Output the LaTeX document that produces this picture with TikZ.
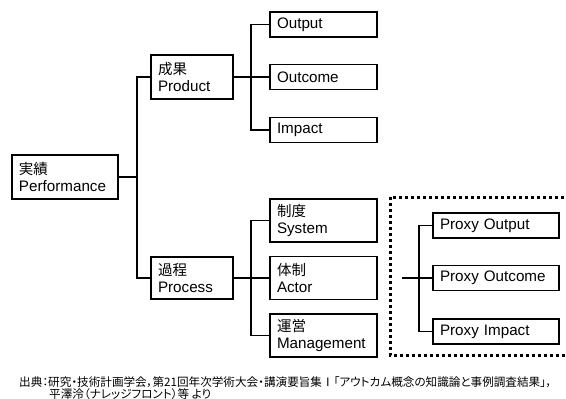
\documentclass[tikz,border=0pt]{standalone}
\usepackage{fontspec}
\setmainfont{Liberation Sans}
\newfontfamily\jp{Noto Sans CJK JP}
\newfontfamily\jpp{Noto Sans CJK JP}[RawFeature=+palt]
\begin{document}
\begin{tikzpicture}[x=1pt,y=-1pt,
  box/.style={draw, line width=1.8pt, line join=miter, rectangle, inner xsep=7pt, inner ysep=0pt,
    align=left, font=\fontsize{15.2}{16.5}\selectfont, anchor=center},
  conn/.style={line width=1.8pt, line join=miter},
  dotbox/.style={line width=3pt, dash pattern=on 3pt off 3pt},
  src/.style={anchor=west, inner sep=0pt, font=\jpp\fontsize{11.6}{11.6}\selectfont}]
\useasboundingbox (0,0) rectangle (566,399);

% main boxes
\node[box, text width=92pt, minimum height=44pt] (perf) at (65,177) {{\jp\fontsize{14.5}{16.5}\selectfont 実績}\\Performance};
\node[box, text width=68pt, minimum height=44pt] (prod) at (192,77) {{\jp\fontsize{14.5}{16.5}\selectfont 成果}\\Product};
\node[box, text width=68pt, minimum height=42pt] (proc) at (192,278) {{\jp\fontsize{14.5}{16.5}\selectfont 過程}\\Process};

\node[box, text width=93pt, minimum height=25pt] (out)  at (323.5,24.5) {Output};
\node[box, text width=93pt, minimum height=25pt] (outc) at (323.5,77) {Outcome};
\node[box, text width=93pt, minimum height=25pt] (imp)  at (323.5,130) {Impact};

\node[box, text width=93pt, minimum height=43pt] (sys) at (323.5,220.5) {{\jp\fontsize{14.5}{16.5}\selectfont 制度}\\System};
\node[box, text width=93pt, minimum height=43pt] (act) at (323.5,278) {{\jp\fontsize{14.5}{16.5}\selectfont 体制}\\Actor};
\node[box, text width=93pt, minimum height=43pt] (man) at (323.5,335.5) {{\jp\fontsize{14.5}{16.5}\selectfont 運営}\\Management};

% dotted frame
\draw[dotbox] (390,197) rectangle (580,355);

\node[box, text width=112pt, minimum height=25pt] (pout)  at (496,225.5) {Proxy Output};
\node[box, text width=112pt, minimum height=25pt] (poutc) at (496,278) {Proxy Outcome};
\node[box, text width=112pt, minimum height=25pt] (pimp)  at (496,331.5) {Proxy Impact};

% connectors
\coordinate (t1) at (137,177);
\draw[conn] (perf.east) -- (t1);
\draw[conn] (prod.west) -| (t1);
\draw[conn] (proc.west) -| (t1);

\coordinate (t2) at (251,77);
\draw[conn] (prod.east) -- (outc.west);
\draw[conn] (out.west) -| (t2);
\draw[conn] (imp.west) -| (t2);

\coordinate (t3) at (251,278);
\draw[conn] (proc.east) -- (act.west);
\draw[conn] (sys.west) -| (t3);
\draw[conn] (man.west) -| (t3);

\coordinate (stub) at (402,278);
\coordinate (t4) at (419,278);
\draw[conn] (stub) -- (poutc.west);
\draw[conn] (pout.west) -| (t4);
\draw[conn] (pimp.west) -| (t4);

% source
\node[src] (src1) at (19,382) {出典：研究・技術計画学会，第21回年次学術大会・講演要旨集Ⅰ「アウトカム概念の知識論と事例調査結果」，};
\node[src] (src2) at (49,394) {平澤泠（ナレッジフロント）等 より};
\end{tikzpicture}
\end{document}
